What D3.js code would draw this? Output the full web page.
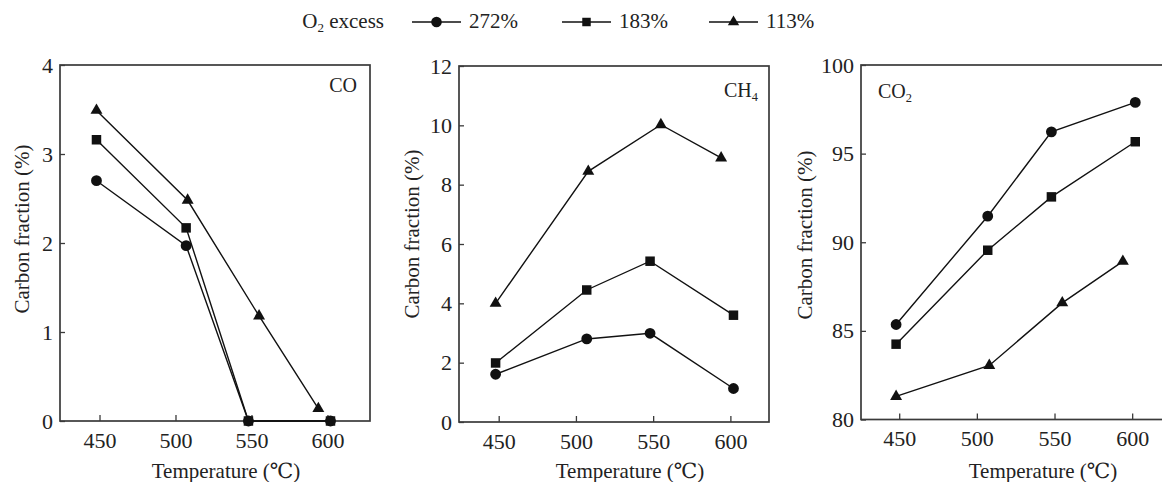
<!DOCTYPE html>
<html>
<head>
<meta charset="utf-8">
<script src="https://cdn.jsdelivr.net/npm/d3@7"></script>
<style>
  html, body { margin: 0; padding: 0; background: #fff; }
  svg { display: block; font-family: "Liberation Serif", "Times New Roman", "DejaVu Serif", serif; }
</style>
</head>
<body>
<svg id="chart" width="1162" height="482"></svg>
<script>
// Measured temperatures (°C) for each O2 excess level
const tempsHigh = [448, 507, 548, 602];   // 272% and 183% runs
const tempsLow  = [448, 508, 555, 594];   // 113% runs

const seriesNames = ["272%", "183%", "113%"];
const xTicks = [450, 500, 550, 600];

// Carbon fraction (%) in CO
const co272 = [2.70, 1.97, 0, 0];
const co183 = [3.16, 2.17, 0, 0];
const co113 = [3.49, 2.48, 1.18, 0.14];
const coTicks = [0, 1, 2, 3, 4];

// Carbon fraction (%) in CH4
const ch4_272 = [1.61, 2.80, 2.99, 1.13];
const ch4_183 = [1.99, 4.45, 5.42, 3.60];
const ch4_113 = [4.00, 8.45, 10.02, 8.90];
const ch4Ticks = [0, 2, 4, 6, 8, 10, 12];

// Carbon fraction (%) in CO2
const co2_272 = [85.36, 91.47, 96.23, 97.89];
const co2_183 = [84.25, 89.55, 92.56, 95.67];
const co2_113 = [81.30, 83.05, 86.58, 88.92];
const co2Ticks = [80, 85, 90, 95, 100];

const svg = d3.select("#chart");
const SERIF = '"Liberation Serif", "Times New Roman", "DejaVu Serif", serif';
const FONT = 21;
const TICK_FONT = 22;

const symbolTypes = [d3.symbolCircle, d3.symbolSquare, d3.symbolTriangle];
const symbolSizes = [92, 90, 62];

const panels = [
  { left: 60, right: 370, top: 65, bottom: 421, xDomain: [424, 628], yDomain: [0, 4], ticks: coTicks,
    series: [co272, co183, co113], label: ["CO", ""], labelX: 357, labelY: 92, labelAnchor: "end",
    yTitleX: 22, yTitleY: 229, xTitleX: 226 },
  { left: 459, right: 769, top: 66, bottom: 422, xDomain: [424.3, 625], yDomain: [0, 12], ticks: ch4Ticks,
    series: [ch4_272, ch4_183, ch4_113], label: ["CH", "4"], labelX: 758, labelY: 97, labelAnchor: "end",
    yTitleX: 412, yTitleY: 234, xTitleX: 630 },
  { left: 861, right: 1171, top: 65, bottom: 419.5, xDomain: [425.4, 625], yDomain: [80, 100], ticks: co2Ticks,
    series: [co2_272, co2_183, co2_113], label: ["CO", "2"], labelX: 878, labelY: 98, labelAnchor: "start",
    yTitleX: 805, yTitleY: 235, xTitleX: 1043 }
];

function writeFormula(textSel, parts, size) {
  textSel.append("tspan").text(parts[0]);
  if (parts[1]) {
    textSel.append("tspan").attr("font-size", size * 0.62).attr("dy", size * 0.18).text(parts[1]);
  }
}

panels.forEach(p => {
  const x = d3.scaleLinear().domain(p.xDomain).range([p.left, p.right]);
  const y = d3.scaleLinear().domain(p.yDomain).range([p.bottom, p.top]);
  const g = svg.append("g");

  // frame
  g.append("rect")
    .attr("x", p.left).attr("y", p.top)
    .attr("width", p.right - p.left).attr("height", p.bottom - p.top)
    .attr("fill", "none").attr("stroke", "#3a3a3a").attr("stroke-width", 1.7);

  // axes with inward ticks
  const yAxis = d3.axisLeft(y).tickValues(p.ticks).tickFormat(d3.format("d"))
    .tickSizeInner(-5).tickSizeOuter(0).tickPadding(7);
  const xAxis = d3.axisBottom(x).tickValues(xTicks).tickFormat(d3.format("d"))
    .tickSizeInner(-6).tickSizeOuter(0).tickPadding(11);

  const ya = g.append("g").attr("transform", `translate(${p.left},0)`).call(yAxis);
  const xa = g.append("g").attr("transform", `translate(0,${p.bottom})`).call(xAxis);
  [ya, xa].forEach(a => {
    a.attr("font-family", SERIF);
    a.select(".domain").remove();
    a.selectAll("line").attr("stroke", "#3a3a3a").attr("stroke-width", 1.3);
    a.selectAll("text").attr("font-size", TICK_FONT).attr("fill", "#222");
  });

  // series
  p.series.forEach((vals, i) => {
    const temps = i === 2 ? tempsLow : tempsHigh;
    const pts = vals.map((v, k) => [temps[k], v]);
    g.append("path")
      .datum(pts)
      .attr("fill", "none").attr("stroke", "#111").attr("stroke-width", 1.4)
      .attr("d", d3.line().x(d => x(d[0])).y(d => y(d[1])));
    g.selectAll(null).data(pts).enter().append("path")
      .attr("transform", d => `translate(${x(d[0])},${y(d[1])})`)
      .attr("d", d3.symbol().type(symbolTypes[i]).size(symbolSizes[i]))
      .attr("fill", "#111");
  });

  // species label
  const lab = g.append("text")
    .attr("x", p.labelX).attr("y", p.labelY)
    .attr("text-anchor", p.labelAnchor)
    .attr("font-size", 20).attr("fill", "#222");
  writeFormula(lab, p.label, 20);

  // axis titles
  g.append("text")
    .attr("x", p.xTitleX).attr("y", 478)
    .attr("text-anchor", "middle").attr("font-size", FONT).attr("fill", "#222")
    .text("Temperature (℃)");
  g.append("text")
    .attr("transform", `translate(${p.yTitleX},${p.yTitleY}) rotate(-90)`)
    .attr("text-anchor", "middle").attr("dominant-baseline", "central")
    .attr("font-size", FONT).attr("fill", "#222")
    .text("Carbon fraction (%)");
});

// legend
const legend = svg.append("g");
const lt = legend.append("text")
  .attr("x", 384).attr("y", 28).attr("text-anchor", "end")
  .attr("font-size", FONT).attr("fill", "#222");
lt.append("tspan").text("O");
lt.append("tspan").attr("font-size", 13).attr("dy", 4).text("2");
lt.append("tspan").attr("dy", -4).text(" excess");

const legendStarts = [412, 562, 709];
const legendSizes = [88, 72, 56];
seriesNames.forEach((name, i) => {
  const x0 = legendStarts[i];
  const cy = 22;
  legend.append("line")
    .attr("x1", x0).attr("x2", x0 + 49).attr("y1", cy).attr("y2", cy)
    .attr("stroke", "#111").attr("stroke-width", 1.4);
  legend.append("path")
    .attr("transform", `translate(${x0 + 24.5},${cy})`)
    .attr("d", d3.symbol().type(symbolTypes[i]).size(legendSizes[i]))
    .attr("fill", "#111");
  legend.append("text")
    .attr("x", x0 + 57).attr("y", 28)
    .attr("font-size", FONT).attr("fill", "#222")
    .text(name);
});
</script>
</body>
</html>
